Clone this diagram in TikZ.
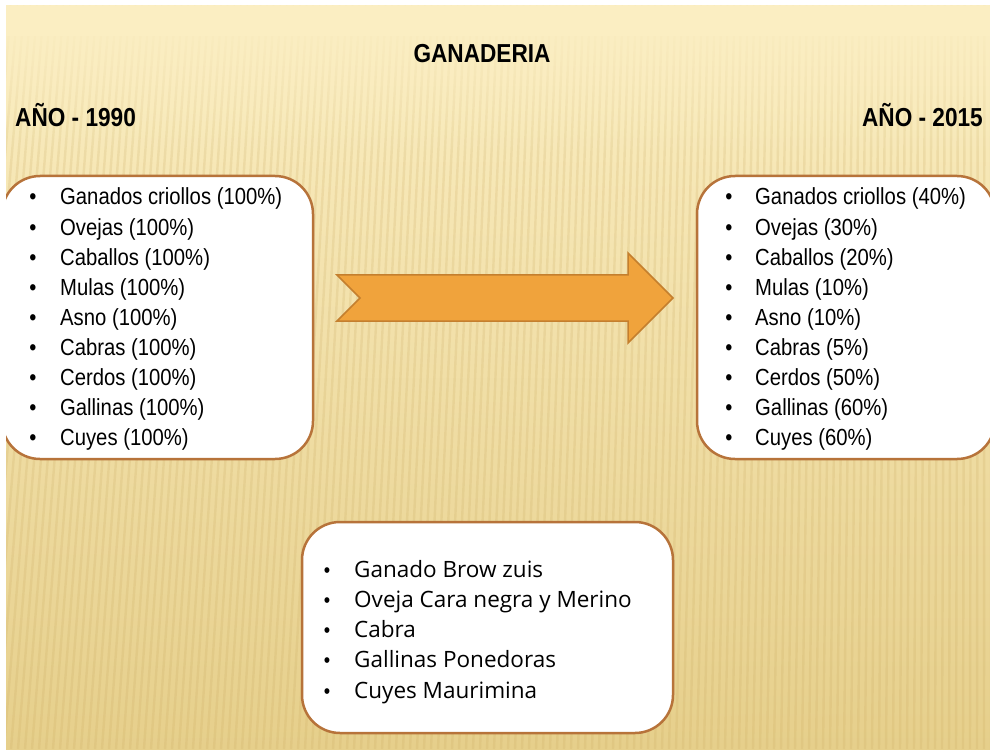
\documentclass[tikz,border=0pt]{standalone}
\usepackage{fontspec}
\setmainfont{Liberation Sans}[FakeStretch=0.87]
\newfontfamily\boxfont{Open Sans}
\definecolor{bgtop}{HTML}{FBEEC2}
\definecolor{bgmid}{HTML}{F5E3A6}
\definecolor{bgbot}{HTML}{E6CF8B}
\definecolor{stripe}{HTML}{C9A85E}
\definecolor{boxline}{HTML}{B7733A}
\definecolor{arrowfill}{HTML}{F0A33C}
\definecolor{arrowline}{HTML}{C47F2E}
\tikzset{
  listbox/.style={draw=boxline, line width=2.5pt, fill=white, rounded corners=38pt},
  bul/.style={anchor=base, inner sep=0pt, font=\fontsize{23.3}{28}\selectfont},
  item/.style={anchor=base west, inner sep=0pt, font=\fontsize{23.3}{28}\selectfont},
  bbul/.style={anchor=base, inner sep=0pt, font=\fontsize{21}{26}\selectfont},
  bitem/.style={anchor=base west, inner sep=0pt, font=\boxfont\fontsize{22.5}{26}\selectfont},
  heading/.style={inner sep=0pt, font=\bfseries\fontsize{26}{30}\selectfont},
  bigarrow/.style={fill=arrowfill, draw=arrowline, line width=1.5pt, line join=miter}
}
\begin{document}
\begin{tikzpicture}[x=1pt,y=-1pt]
\useasboundingbox (0,0) rectangle (990,751);
\fill[white] (0,0) rectangle (990,751);
% slide background
\shade[top color=bgtop, middle color=bgmid, bottom color=bgbot] (6,6) rectangle (990,749);
\begin{scope}
\clip (6,6) rectangle (990,749);
\foreach \x in {-80,-73,...,1000} {
  \draw[stripe, opacity=0.2, line width=2.4pt] (\x,749) -- ({\x+60*(1-\x/990)},6);
}
\end{scope}
\fill[bgtop] (6,6) rectangle (990,36);
\foreach \k in {0,...,23} {
  \fill[bgtop, opacity={0.85*(1-\k/24)}] (6,{36+\k*5}) rectangle (990,{41+\k*5});
}
% boxes and arrow
\begin{scope}
\clip (6,6) rectangle (990,749);
\draw[listbox] (2,176) rectangle (313,459);
\draw[listbox] (697,176) rectangle (995,459);
\draw[listbox] (302,522) rectangle (673,733);
\end{scope}
\draw[bigarrow] (337,275) -- (628,275) -- (628,253) -- (673,298) -- (628,343) -- (628,321) -- (337,321) -- (360,298) -- cycle;
% headings
\node[heading, anchor=base] (title) at (482,63) {GANADERIA};
\node[heading, anchor=base west] (y1990) at (15,127) {AÑO - 1990};
\node[heading, anchor=base east] (y2015) at (983,127) {AÑO - 2015};
% left list
\foreach \t [count=\i] in {Ganados criollos (100\%), Ovejas (100\%), Caballos (100\%), Mulas (100\%), Asno (100\%), Cabras (100\%), Cerdos (100\%), Gallinas (100\%), Cuyes (100\%)} {
  \node[bul] (lb\i) at (33,{205+30.1*(\i-1)}) {\textbullet};
  \node[item] (lt\i) at (60,{205+30.1*(\i-1)}) {\t};
}
% right list
\foreach \t [count=\i] in {Ganados criollos (40\%), Ovejas (30\%), Caballos (20\%), Mulas (10\%), Asno (10\%), Cabras (5\%), Cerdos (50\%), Gallinas (60\%), Cuyes (60\%)} {
  \node[bul] (rb\i) at (729,{205+30.1*(\i-1)}) {\textbullet};
  \node[item] (rt\i) at (755,{205+30.1*(\i-1)}) {\t};
}
% bottom list
\foreach \t [count=\i] in {Ganado Brow zuis, Oveja Cara negra y Merino, Cabra, Gallinas Ponedoras, Cuyes Maurimina} {
  \node[bbul] (bb\i) at (327,{577+30.3*(\i-1)}) {\textbullet};
  \node[bitem] (bt\i) at (354,{577+30.3*(\i-1)}) {\t};
}
\end{tikzpicture}
\end{document}
